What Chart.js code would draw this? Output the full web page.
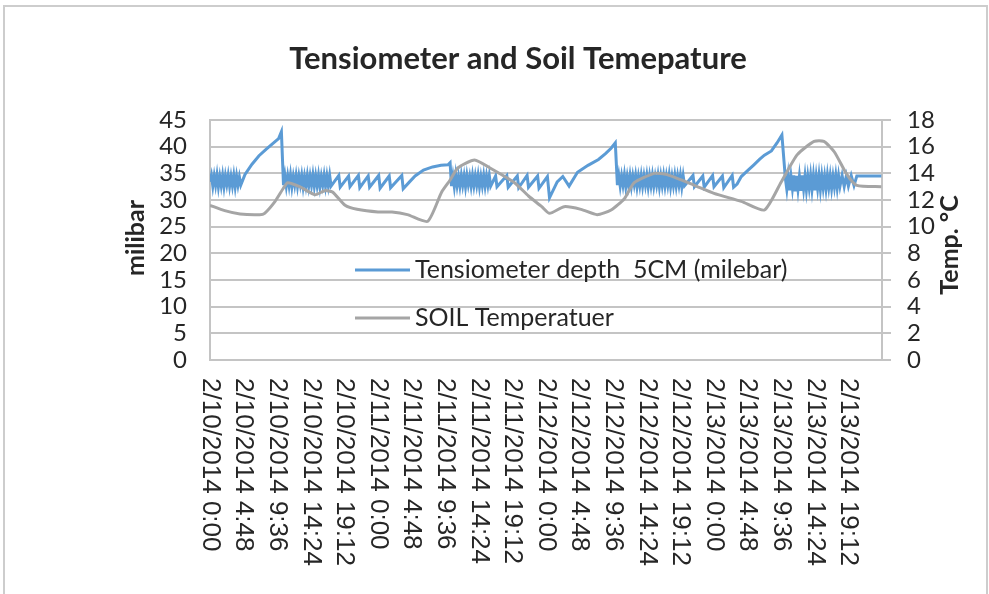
<!DOCTYPE html>
<html>
<head>
<meta charset="utf-8">
<script src="https://cdn.jsdelivr.net/npm/chart.js@4.4.1/dist/chart.umd.min.js"></script>
<style>
    html, body { margin: 0; padding: 0; background: #fff; }
    #wrap { position: relative; width: 989px; height: 594px; overflow: hidden; }
    #frame { position: absolute; left: 3px; top: 5px; width: 985px; height: 620px; border: 2px solid #cdcdcd; box-sizing: border-box; }
    #chart { position: absolute; left: 0; top: 0; }
</style>
</head>
<body>
<div id="wrap">
    <div id="frame"></div>
    <canvas id="chart" width="989" height="594"></canvas>
</div>
<script>
// hours since 2/10/2014 0:00
const xTickHours = [0, 4.8, 9.6, 14.4, 19.2, 24, 28.8, 33.6, 38.4, 43.2, 48, 52.8, 57.6, 62.4, 67.2, 72, 76.8, 81.6, 86.4, 91.2];
const xTickLabels = [
    "2/10/2014 0:00", "2/10/2014 4:48", "2/10/2014 9:36", "2/10/2014 14:24", "2/10/2014 19:12",
    "2/11/2014 0:00", "2/11/2014 4:48", "2/11/2014 9:36", "2/11/2014 14:24", "2/11/2014 19:12",
    "2/12/2014 0:00", "2/12/2014 4:48", "2/12/2014 9:36", "2/12/2014 14:24", "2/12/2014 19:12",
    "2/13/2014 0:00", "2/13/2014 4:48", "2/13/2014 9:36", "2/13/2014 14:24", "2/13/2014 19:12"
];

const tensionHours = [
    0, 0.2, 0.4, 0.6, 0.8, 1.0, 1.2, 1.4, 1.6, 1.8, 2.0, 2.2, 2.4, 2.6, 2.8, 3.0, 3.2, 3.4, 3.6, 3.8, 4.0, 4.2, 4.4,
    5.0, 6.0, 7.0, 8.0, 9.0, 9.8, 10.2, 10.5,
    10.7, 10.9, 11.1, 11.3, 11.5, 11.7, 11.9, 12.1, 12.3, 12.5, 12.7, 12.9, 13.1, 13.3, 13.5, 13.7, 13.9,
    14.1, 14.3, 14.5, 14.7, 14.9, 15.1, 15.3, 15.5, 15.7, 15.9, 16.1, 16.3, 16.5, 16.7, 16.9, 17.1,
    17.3, 18.4, 18.6, 19.8, 20.0, 21.2, 21.4, 22.6, 22.8, 24.1, 24.3, 25.6, 25.8, 27.4, 27.6,
    28.5, 29.3, 30.5, 31.8, 33.0, 34.0, 34.3, 34.5,
    34.7, 34.9, 35.1, 35.3, 35.5, 35.7, 35.9, 36.1, 36.3, 36.5, 36.7, 36.9, 37.1, 37.3,
    37.5, 37.7, 37.9, 38.1, 38.3, 38.5, 38.7, 38.9, 39.1, 39.3, 39.5, 39.7, 39.9, 40.1,
    40.8, 41.0, 42.4, 42.6, 43.9, 44.1, 45.3, 45.5, 46.8, 47.0, 48.2, 48.5,
    49.6, 50.4, 51.3, 52.5, 54.0, 55.5, 56.5, 57.3, 57.9, 58.2,
    58.4, 58.6, 58.8, 59.0, 59.2, 59.4, 59.6, 59.8, 60.0, 60.2, 60.4, 60.6, 60.8, 61.0, 61.2, 61.4,
    61.6, 61.8, 62.0, 62.2, 62.4, 62.6, 62.8, 63.0, 63.2, 63.4, 63.6, 63.8, 64.0, 64.2, 64.4, 64.6,
    64.8, 65.0, 65.2, 65.4, 65.6, 65.8, 66.0, 66.2, 66.4, 66.6, 66.8, 67.0, 67.2, 67.4, 67.6, 67.8,
    69.0, 69.2, 70.4, 70.6, 71.8, 72.0, 73.2, 73.4, 74.6, 74.8, 75.3,
    75.9, 76.8, 77.7, 78.5, 79.2, 80.2, 81.0, 81.7, 82.2,
    82.4, 82.6, 82.8, 83.0, 83.2, 83.4, 83.6, 83.8, 84.0, 84.2, 84.4, 84.6, 84.8, 85.0, 85.2, 85.4,
    85.6, 85.8, 86.0, 86.2, 86.4, 86.6, 86.8, 87.0, 87.2, 87.4, 87.6, 87.8, 88.0, 88.2, 88.4, 88.6,
    88.8, 89.0, 89.2, 89.4, 89.6, 89.8, 90.0, 90.3, 90.6, 90.9, 91.2, 91.6, 92.0, 92.4, 95.9
];
const tensionValues = [
    33.4, 34.6, 32.6, 34.5, 32.8, 34.7, 32.5, 34.4, 32.7, 34.6, 32.5, 34.5, 32.9, 34.6, 32.6, 34.4, 32.7, 34.6, 32.5, 34.5, 32.8, 34.3, 32.8,
    34.8, 36.7, 38.3, 39.5, 40.6, 41.5, 42.8, 32.8,
    34.6, 32.6, 34.5, 32.7, 34.7, 32.5, 34.4, 32.8, 34.6, 32.6, 34.5, 32.9, 34.6, 32.5, 34.4, 32.7, 34.6,
    32.6, 34.5, 32.8, 34.7, 32.6, 34.5, 32.7, 34.6, 32.5, 34.4, 32.8, 34.6, 32.6, 34.5, 32.7, 34.6,
    32.6, 34.6, 32.4, 34.5, 32.5, 34.6, 32.3, 34.5, 32.4, 34.6, 32.2, 34.5, 32.3, 34.6, 32.1,
    33.4, 34.5, 35.6, 36.2, 36.5, 36.6, 37.0, 32.6,
    34.5, 32.5, 34.7, 32.7, 34.4, 32.6, 34.6, 32.8, 34.5, 32.5, 34.6, 32.9, 34.4, 32.6,
    34.6, 32.7, 34.5, 32.8, 34.6, 32.5, 34.4, 32.7, 34.6, 32.6, 34.5, 32.8, 34.6, 32.6,
    34.5, 32.5, 34.6, 32.4, 34.5, 32.3, 34.6, 32.4, 34.5, 32.2, 34.4, 30.4,
    33.4, 34.4, 32.6, 35.2, 36.5, 37.6, 38.7, 39.7, 40.7, 32.8,
    34.6, 32.6, 34.5, 32.8, 34.7, 32.5, 34.4, 32.7, 34.6, 32.6, 34.5, 32.9, 34.6, 32.5, 34.4, 32.7,
    34.6, 32.6, 34.5, 32.8, 34.6, 32.5, 34.5, 32.7, 34.6, 32.6, 34.4, 32.8, 34.6, 32.5, 34.5, 32.7,
    34.6, 32.6, 34.5, 32.8, 34.7, 32.5, 34.4, 32.7, 34.6, 32.6, 34.5, 32.8, 34.6, 32.5, 34.5, 32.7,
    34.6, 32.5, 34.5, 32.4, 34.6, 32.5, 34.5, 32.3, 34.6, 32.4, 33.0,
    34.4, 35.5, 36.6, 37.6, 38.4, 39.2, 40.7, 42.2, 34.0,
    32.0, 34.5, 31.8, 34.4, 32.2, 34.6, 31.6, 34.5, 32.0, 34.4, 31.7, 34.6, 32.1, 34.5, 31.9, 34.4,
    32.3, 34.6, 32.0, 34.5, 31.8, 34.4, 32.2, 34.6, 32.0, 34.5, 32.3, 34.4, 32.1, 34.6, 32.4, 34.5,
    32.2, 34.4, 32.5, 34.6, 32.3, 34.5, 32.6, 34.6, 32.5, 34.5, 32.6, 34.6, 32.7, 34.5, 34.5
];

const tempHours = [
    0, 2.1, 4.3, 7.1, 7.8, 9.3, 10.5, 11.1, 12.8, 15.0, 16.4, 17.5, 19.3, 21.0, 24.0, 26.0, 28.2, 31.1,
    33.1, 34.3, 35.4, 37.8, 40.0, 43.5, 45.5, 47.4, 48.5, 50.6, 53.0, 55.3, 57.3, 59.2, 60.6, 63.5,
    65.3, 69.2, 72.0, 75.9, 79.2, 81.6, 83.9, 86.3, 87.7, 89.2, 91.0, 92.4, 95.9
];
const tempValues = [
    11.6, 11.2, 10.95, 10.9, 11.0, 11.9, 12.9, 13.3, 13.0, 12.4, 12.7, 12.6, 11.6, 11.3, 11.1, 11.1, 10.9, 10.4,
    12.6, 13.5, 14.4, 15.0, 14.4, 13.3, 12.3, 11.5, 11.0, 11.5, 11.3, 10.9, 11.25, 12.1, 13.3, 14.0,
    13.9, 13.1, 12.5, 11.9, 11.25, 13.35, 15.4, 16.4, 16.4, 15.6, 13.9, 13.1, 13.0
];

const tensionColor = "#5b9bd5";
const tempColor = "#a5a5a5";
const textColor = "#262626";
const gridColor = "#c4c4c4";

function toPoints(xs, ys) {
    return xs.map((x, i) => ({ x, y: ys[i] }));
}

const overlayPlugin = {
    id: "overlay",
    afterDraw(chart) {
        const ctx = chart.ctx;
        const xScale = chart.scales.x;
        const area = chart.chartArea;
        ctx.save();

        // title
        ctx.fillStyle = textColor;
        ctx.font = "bold 31px Lato";
        ctx.textAlign = "center";
        ctx.textBaseline = "middle";
        ctx.fillText("Tensiometer and Soil Temepature", 518, 59);

        // x labels, rotated clockwise
        ctx.font = "26px 'Liberation Sans'";
        ctx.textAlign = "left";
        xTickHours.forEach((h, i) => {
            const px = xScale.getPixelForValue(h);
            ctx.save();
            ctx.translate(px, area.bottom + 18);
            ctx.rotate(Math.PI / 2);
            ctx.fillText(xTickLabels[i], 0, 0);
            ctx.restore();
        });

        // axis titles
        ctx.font = "bold 25px Lato";
        ctx.textAlign = "center";
        ctx.save();
        ctx.translate(136, 238);
        ctx.rotate(-Math.PI / 2);
        ctx.fillText("milibar", 0, 0);
        ctx.restore();
        ctx.save();
        ctx.translate(950, 245);
        ctx.rotate(-Math.PI / 2);
        ctx.fillText("Temp. °C", 0, 0);
        ctx.restore();

        // legend inside the plot
        const legendItems = [
            { text: "Tensiometer depth  5CM (milebar)", color: tensionColor, y: area.top + 150 },
            { text: "SOIL Temperatuer", color: tempColor, y: area.top + 198 }
        ];
        ctx.font = "25px Lato";
        ctx.textAlign = "left";
        legendItems.forEach((item) => {
            ctx.strokeStyle = item.color;
            ctx.lineWidth = 3;
            ctx.beginPath();
            ctx.moveTo(area.left + 145, item.y);
            ctx.lineTo(area.left + 200, item.y);
            ctx.stroke();
            ctx.fillStyle = textColor;
            ctx.fillText(item.text, area.left + 205, item.y);
        });
        ctx.restore();
    }
};

new Chart(document.getElementById("chart"), {
    type: "line",
    data: {
        datasets: [
            {
                label: "Tensiometer depth  5CM (milebar)",
                data: toPoints(tensionHours, tensionValues),
                borderColor: tensionColor,
                borderWidth: 3,
                pointRadius: 0,
                tension: 0,
                yAxisID: "y",
                order: 2
            },
            {
                label: "SOIL Temperatuer",
                data: toPoints(tempHours, tempValues),
                borderColor: tempColor,
                borderWidth: 3,
                pointRadius: 0,
                tension: 0.2,
                yAxisID: "y1",
                order: 1
            }
        ]
    },
    options: {
        responsive: false,
        animation: false,
        layout: { padding: { top: 120, left: 0, right: 0, bottom: 0 } },
        plugins: {
            legend: { display: false },
            tooltip: { enabled: false },
            title: { display: false }
        },
        scales: {
            x: {
                type: "linear",
                min: 0,
                max: 96,
                afterBuildTicks: (scale) => {
                    scale.ticks = xTickHours.map((v) => ({ value: v }));
                },
                afterFit: (scale) => { scale.height = 234; },
                ticks: { display: false },
                grid: { display: false },
                border: { display: true, color: gridColor, width: 2 }
            },
            y: {
                position: "left",
                min: 0,
                max: 45,
                afterFit: (scale) => { scale.width = 210; },
                ticks: {
                    stepSize: 5,
                    autoSkip: false,
                    color: textColor,
                    padding: 23,
                    font: { family: "Lato", size: 24 }
                },
                grid: { color: gridColor, lineWidth: 2, drawTicks: false },
                border: { display: true, color: gridColor, width: 2 }
            },
            y1: {
                position: "right",
                min: 0,
                max: 18,
                afterFit: (scale) => { scale.width = 107; },
                ticks: {
                    stepSize: 2,
                    autoSkip: false,
                    color: textColor,
                    padding: 16,
                    font: { family: "Lato", size: 24 }
                },
                grid: { drawOnChartArea: false, color: gridColor, lineWidth: 2, tickLength: 9 },
                border: { display: true, color: gridColor, width: 2 }
            }
        }
    },
    plugins: [overlayPlugin]
});
</script>
</body>
</html>
